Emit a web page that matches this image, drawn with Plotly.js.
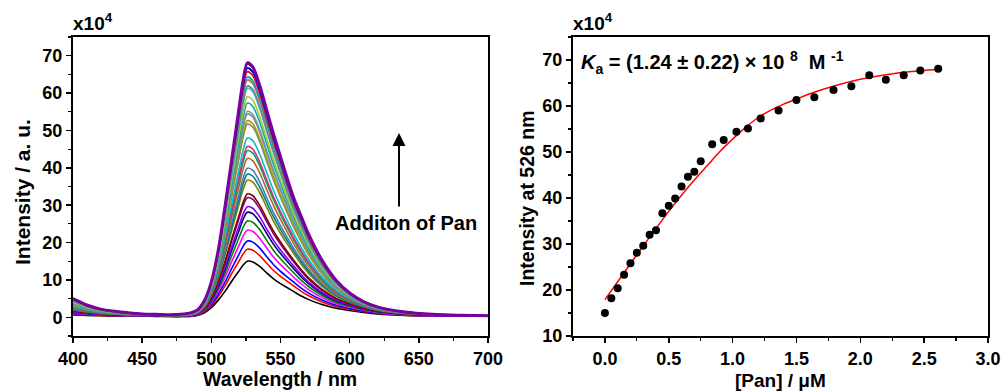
<!DOCTYPE html>
<html>
<head>
<meta charset="utf-8">
<script src="https://cdn.plot.ly/plotly-3.0.1.min.js"></script>
<style>
  html, body { margin: 0; padding: 0; background: #fff; }
  #chart { width: 1003px; height: 392px; }
</style>
</head>
<body>
<div id="chart"></div>
<script>
// ---- Emission spectra (left panel), intensities in units of 1e4 ----
// Wavelength grid (nm)
const wavelength = [400, 410, 420, 430, 440, 450, 460, 470, 480, 485, 490, 495, 500, 505, 510, 515, 520, 523,
                    526, 530, 535, 540, 545, 550, 555, 560, 565, 570, 580, 590, 600, 610, 620, 640, 660, 680, 700];
// Spectrum before any Pan is added (lowest trace)
const spectrumFirst = [0.6, 0.5, 0.4, 0.35, 0.3, 0.3, 0.25, 0.2, 0.2, 0.25, 0.5, 1.2, 2.6, 4.6, 7.0, 9.8, 12.4, 14.0,
                       15.0, 14.8, 13.6, 11.9, 10.3, 9.0, 7.9, 6.8, 5.7, 4.8, 3.4, 2.4, 1.8, 1.3, 0.9, 0.5, 0.35, 0.3, 0.3];
// Spectrum at the end of the titration (highest trace)
const spectrumLast = [5.0, 3.3, 2.2, 1.6, 1.2, 0.9, 0.8, 0.7, 0.9, 1.2, 2.0, 4.5, 9.5, 18, 30, 43, 56, 63.5,
                      68.1, 67, 62, 55.5, 49, 43, 37, 31.5, 27, 22.5, 15.3, 10, 6.5, 4.2, 2.8, 1.4, 0.8, 0.55, 0.4];

// ---- Titration (right panel) ----
// [Pan] in µM
const panConc = [0, 0.05, 0.10, 0.15, 0.20, 0.25, 0.30, 0.35, 0.40, 0.45, 0.50, 0.55, 0.60, 0.65, 0.70, 0.75,
                 0.84, 0.93, 1.03, 1.12, 1.22, 1.36, 1.50, 1.64, 1.79, 1.93, 2.07, 2.20, 2.34, 2.47, 2.61];
// Emission intensity at 526 nm (x1e4)
const intensity526 = [15.0, 18.2, 20.4, 23.3, 25.8, 28.1, 29.6, 32.0, 33.0, 36.7, 38.3, 39.9, 42.5, 44.6, 45.7, 48.0,
                      51.7, 52.6, 54.4, 55.1, 57.3, 59.0, 61.3, 61.9, 63.5, 64.3, 66.7, 65.7, 66.7, 67.7, 68.1];
// Binding fit curve
const fitConc = [0, 0.1, 0.2, 0.3, 0.4, 0.5, 0.6, 0.7, 0.8, 0.9, 1.0, 1.1, 1.2, 1.3, 1.4, 1.5, 1.6, 1.8, 2.0, 2.2, 2.4, 2.61];
const fitIntensity = [17.9, 21.8, 25.7, 29.6, 33.4, 37.1, 40.6, 43.9, 47.0, 50.1, 52.8, 55.3, 57.5, 59.1, 60.4, 61.5,
                      62.6, 64.4, 65.8, 66.8, 67.5, 68.0];

// Trace colours, in titration order
const traceColors = ['#000000', '#ff0000', '#0000ff', '#ff00ff', '#008000', '#000080', '#8000ff', '#800080',
                     '#800000', '#808000', '#008080', '#3f7fbf', '#b5651d', '#00a050', '#d0308c', '#00c0c0',
                     '#808080', '#a0a000', '#a08080', '#5f9ea0', '#20a0a0', '#9acd32', '#40c0d0', '#708090',
                     '#a08040', '#00a0c0', '#000000', '#ff0000', '#0000ff', '#006400', '#7a00a0'];

// Build each spectrum: the profile is blended between the first and last measured
// spectra and scaled so that its value at 526 nm equals the titration intensity.
const i526 = wavelength.indexOf(526);
const firstPeak = spectrumFirst[i526], lastPeak = spectrumLast[i526];
const traces = [];
intensity526.forEach((peak, k) => {
  const w = (peak - firstPeak) / (lastPeak - firstPeak);
  const y = wavelength.map((_, j) =>
    peak * ((1 - w) * spectrumFirst[j] / firstPeak + w * spectrumLast[j] / lastPeak));
  const last = k === intensity526.length - 1;
  traces.push({
    x: wavelength, y: y, type: 'scatter', mode: 'lines',
    line: { color: traceColors[k], width: last ? 3 : 1.6, shape: 'spline', smoothing: 0.8 },
    xaxis: 'x', yaxis: 'y', hoverinfo: 'skip'
  });
});

traces.push({
  x: fitConc, y: fitIntensity, type: 'scatter', mode: 'lines',
  line: { color: '#ff0000', width: 1.5, shape: 'spline', smoothing: 0.6 },
  xaxis: 'x2', yaxis: 'y2'
});
traces.push({
  x: panConc, y: intensity526, type: 'scatter', mode: 'markers',
  marker: { color: '#000000', size: 8 },
  xaxis: 'x2', yaxis: 'y2'
});

const W = 1003, H = 392;
const px = v => v / W;
const py = v => 1 - v / H;
const FONT = 'Liberation Sans, Arial, Helvetica, sans-serif';
const bold = size => ({ family: FONT, size: size, weight: 'bold', color: '#000' });

function axis(domain, range, dtick, minorDtick, anchor, fmt) {
  return {
    domain: domain, range: range, anchor: anchor,
    dtick: dtick, tick0: 0, tickformat: fmt,
    ticks: 'outside', ticklen: 5, tickwidth: 1.5, tickcolor: '#000',
    minor: { dtick: minorDtick, ticks: 'outside', ticklen: 3, tickwidth: 1.2, tickcolor: '#000' },
    showline: true, linecolor: '#000', linewidth: 2, mirror: true,
    showgrid: false, zeroline: false, tickfont: bold(18), fixedrange: true
  };
}

const yDom = [py(336), py(37)];
const layout = {
  width: W, height: H,
  margin: { l: 0, r: 0, t: 0, b: 0 },
  paper_bgcolor: '#fff', plot_bgcolor: '#fff',
  showlegend: false,
  xaxis: axis([px(73), px(488)], [400, 700], 50, 25, 'y', 'd'),
  yaxis: axis(yDom, [-5, 75], 10, 5, 'x', 'd'),
  xaxis2: axis([px(573), px(988)], [-0.25, 3.0], 0.5, 0.25, 'y2', '.1f'),
  yaxis2: axis(yDom, [10, 75], 10, 5, 'x2', 'd'),
  annotations: [
    { xref: 'paper', yref: 'paper', x: px(71), y: py(36), xanchor: 'left', yanchor: 'bottom',
      text: 'x10<sup>4</sup>', showarrow: false, font: bold(19) },
    { xref: 'paper', yref: 'paper', x: px(571), y: py(36), xanchor: 'left', yanchor: 'bottom',
      text: 'x10<sup>4</sup>', showarrow: false, font: bold(19) },
    { xref: 'paper', yref: 'paper', x: px(280), y: py(379), xanchor: 'center', yanchor: 'middle',
      text: 'Wavelength / nm', showarrow: false, font: bold(19.5) },
    { xref: 'paper', yref: 'paper', x: px(780), y: py(380), xanchor: 'center', yanchor: 'middle',
      text: '[Pan] / μM', showarrow: false, font: bold(19) },
    { xref: 'paper', yref: 'paper', x: px(22), y: py(192), xanchor: 'center', yanchor: 'middle', textangle: -90,
      text: 'Intensity / a. u.', showarrow: false, font: bold(21) },
    { xref: 'paper', yref: 'paper', x: px(527), y: py(198), xanchor: 'center', yanchor: 'middle', textangle: -90,
      text: 'Intensity at 526 nm', showarrow: false, font: bold(19.5) },
    { xref: 'paper', yref: 'paper', x: px(406), y: py(223), xanchor: 'center', yanchor: 'middle',
      text: 'Additon of Pan', showarrow: false, font: bold(20) },
    { xref: 'paper', yref: 'paper', x: px(399), y: py(133), ax: px(399), ay: py(208), axref: 'paper', ayref: 'paper',
      text: '', showarrow: true, arrowhead: 2, arrowsize: 1.3, arrowwidth: 2, arrowcolor: '#000', standoff: 0 },
    { xref: 'paper', yref: 'paper', x: px(579), y: py(62), xanchor: 'left', yanchor: 'middle',
      text: '<i>K</i><sub>a</sub> = (1.24 ± 0.22) × 10 <sup>8</sup>  M <sup>-1</sup>', showarrow: false,
      font: bold(20) }
  ]
};

Plotly.newPlot('chart', traces, layout, { staticPlot: true, displayModeBar: false });
</script>
</body>
</html>
